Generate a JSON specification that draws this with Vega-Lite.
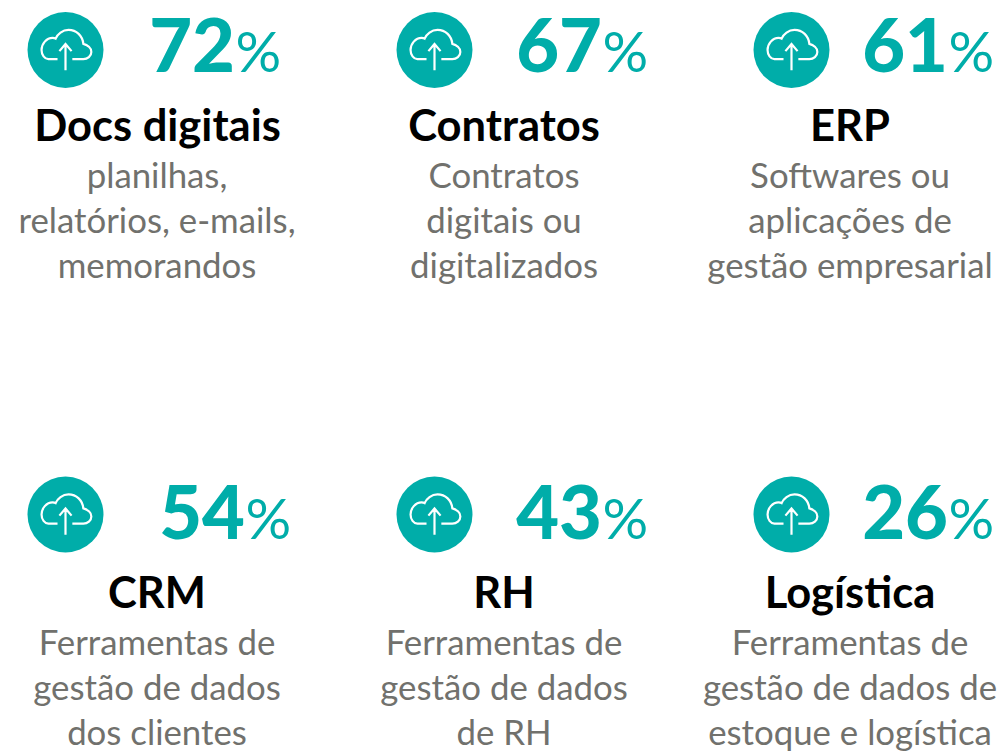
{
"$schema":"https://vega.github.io/schema/vega-lite/v6.json",
"width":999,"height":751,"padding":0,"autosize":{"type":"fit","contains":"padding"},
"background":"#ffffff",
"config":{"view":{"stroke":null}},
"data":{"values":[
{"card":0,"value":72,"title":"Docs digitais","desc":"planilhas,\nrelatórios, e-mails,\nmemorandos"},
{"card":1,"value":67,"title":"Contratos","desc":"Contratos\ndigitais ou\ndigitalizados"},
{"card":2,"value":61,"title":"ERP","desc":"Softwares ou\naplicações de\ngestão empresarial"},
{"card":3,"value":54,"title":"CRM","desc":"Ferramentas de\ngestão de dados\ndos clientes"},
{"card":4,"value":43,"title":"RH","desc":"Ferramentas de\ngestão de dados\nde RH"},
{"card":5,"value":26,"title":"Logística","desc":"Ferramentas de\ngestão de dados de\nestoque e logística"}
]},
"resolve":{"scale":{"x":"independent","y":"independent"}},
"layer":[
{"mark":{"type":"point","shape":"circle","filled":true,"fill":"#00ADA9","stroke":null,"opacity":1,"size":5776},
 "encoding":{
 "x":{"field":"card","type":"quantitative","axis":null,"scale":{"domain":[0,1,2,3,4,5],"range":[65.5,434.5,791.5,65.5,434.5,791.5],"nice":false,"zero":false}},
 "y":{"field":"card","type":"quantitative","axis":null,"scale":{"domain":[0,1,2,3,4,5],"range":[50,50,50,514.5,514.5,514.5],"nice":false,"zero":false}}}},
{"mark":{"type":"point","shape":"M -0.21 0.24 L -0.45 0.24 C -0.55 0.24 -0.63 0.13 -0.63 0 C -0.63 -0.16 -0.5 -0.32 -0.34 -0.32 C -0.32 -0.32 -0.29 -0.32 -0.26 -0.3 C -0.21 -0.42 -0.08 -0.53 0.08 -0.53 C 0.29 -0.53 0.45 -0.37 0.47 -0.16 C 0.58 -0.13 0.68 -0.05 0.68 0.05 C 0.68 0.16 0.58 0.24 0.47 0.24 L 0.18 0.24 M 0 0.53 L 0 -0.16 M -0.16 0.03 L 0 -0.16 L 0.16 0.03","filled":false,"stroke":"#ffffff","strokeWidth":2.2,"opacity":1,"size":5776},
 "encoding":{
 "x":{"field":"card","type":"quantitative","axis":null,"scale":{"domain":[0,1,2,3,4,5],"range":[65.5,434.5,791.5,65.5,434.5,791.5],"nice":false,"zero":false}},
 "y":{"field":"card","type":"quantitative","axis":null,"scale":{"domain":[0,1,2,3,4,5],"range":[50,50,50,514.5,514.5,514.5],"nice":false,"zero":false}}}},
{"mark":{"type":"text","font":"Lato","fontWeight":900,"fontSize":74,"align":"right","baseline":"alphabetic","fill":"#00ADA9"},
 "encoding":{
 "text":{"field":"value","type":"quantitative","format":"d"},
 "x":{"field":"card","type":"quantitative","axis":null,"scale":{"domain":[0,1,2,3,4,5],"range":[235,602,948,245,602,948],"nice":false,"zero":false}},
 "y":{"field":"card","type":"quantitative","axis":null,"scale":{"domain":[0,1,2,3,4,5],"range":[72,72,72,539,539,539],"nice":false,"zero":false}}}},
{"mark":{"type":"text","font":"Lato","fontSize":57,"align":"left","baseline":"alphabetic","fill":"#00ADA9","text":"%"},
 "encoding":{
 "x":{"field":"card","type":"quantitative","axis":null,"scale":{"domain":[0,1,2,3,4,5],"range":[235.5,602.5,948.5,245.5,602.5,948.5],"nice":false,"zero":false}},
 "y":{"field":"card","type":"quantitative","axis":null,"scale":{"domain":[0,1,2,3,4,5],"range":[72,72,72,539,539,539],"nice":false,"zero":false}}}},
{"mark":{"type":"text","font":"Lato","fontWeight":"bold","fontSize":43.5,"align":"center","baseline":"alphabetic","fill":"#000000"},
 "encoding":{
 "text":{"field":"title","type":"nominal"},
 "x":{"field":"card","type":"quantitative","axis":null,"scale":{"domain":[0,1,2,3,4,5],"range":[157.5,504,850,157,504,850],"nice":false,"zero":false}},
 "y":{"field":"card","type":"quantitative","axis":null,"scale":{"domain":[0,1,2,3,4,5],"range":[140.5,140.5,140.5,608,608,608],"nice":false,"zero":false}}}},
{"mark":{"type":"text","font":"Lato","fontSize":34.8,"align":"center","baseline":"alphabetic","fill":"#71716d","lineBreak":"\n","lineHeight":44.8},
 "encoding":{
 "text":{"field":"desc","type":"nominal"},
 "x":{"field":"card","type":"quantitative","axis":null,"scale":{"domain":[0,1,2,3,4,5],"range":[157,504,850,157,504,850],"nice":false,"zero":false}},
 "y":{"field":"card","type":"quantitative","axis":null,"scale":{"domain":[0,1,2,3,4,5],"range":[188,188,188,655,655,655],"nice":false,"zero":false}}}}
]
}
